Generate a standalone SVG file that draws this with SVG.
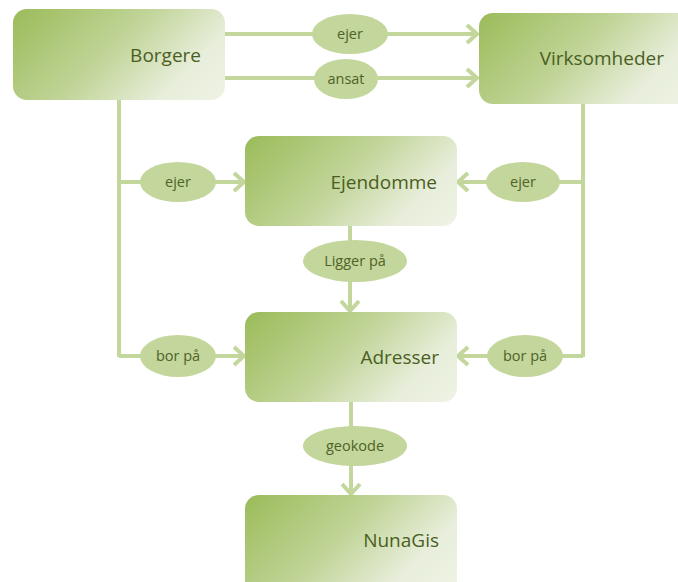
<svg xmlns="http://www.w3.org/2000/svg" width="678" height="582" viewBox="0 0 678 582">
<style>
.t{font-family:"Open Sans","Liberation Sans",sans-serif;font-size:19px;fill:#4a5e22;text-anchor:end;}
.c{stroke:#c3d69b;stroke-width:4;fill:none;}
.e{fill:#c3d69b;}
.l{font-family:"Open Sans","Liberation Sans",sans-serif;font-size:14.5px;fill:#4f6228;text-anchor:middle;}
.s0{stop-color:#9bbb59;}
.s1{stop-color:#c0d497;}
.s2{stop-color:#e8eedb;}
.s3{stop-color:#eef3e4;}
</style>
<defs>
<linearGradient id="gb" gradientUnits="userSpaceOnUse" x1="13" y1="9" x2="165" y2="161">
<stop offset="0" class="s0"/><stop offset="0.45" class="s1"/><stop offset="0.78" class="s2"/><stop offset="1" class="s3"/>
</linearGradient>
<linearGradient id="gv" href="#gb" x1="479" y1="13" x2="631" y2="165"/>
<linearGradient id="ge" href="#gb" x1="245" y1="136" x2="397" y2="288"/>
<linearGradient id="ga" href="#gb" x1="245" y1="312" x2="397" y2="464"/>
<linearGradient id="gn" href="#gb" x1="245" y1="495" x2="397" y2="647"/>
<marker id="a" markerUnits="userSpaceOnUse" markerWidth="16" markerHeight="22" refX="13" refY="11" orient="auto">
<path d="M3,2 L13,11 L3,20" fill="none" stroke="#c3d69b" stroke-width="4"/>
</marker>
</defs>
<rect width="678" height="582" fill="#ffffff"/>
<g id="connectors">
<line class="c" x1="225" y1="34" x2="477" y2="34" marker-end="url(#a)"/>
<line class="c" x1="225" y1="78" x2="477" y2="78" marker-end="url(#a)"/>
<polyline class="c" points="119,100 119,357"/>
<line class="c" x1="119" y1="182" x2="244" y2="182" marker-end="url(#a)"/>
<line class="c" x1="119" y1="356" x2="244" y2="356" marker-end="url(#a)"/>
<polyline class="c" points="583,104 583,357"/>
<line class="c" x1="583" y1="182" x2="458" y2="182" marker-end="url(#a)"/>
<line class="c" x1="583" y1="356" x2="458" y2="356" marker-end="url(#a)"/>
<line class="c" x1="350" y1="226" x2="350" y2="311" marker-end="url(#a)"/>
<line class="c" x1="351" y1="402" x2="351" y2="494" marker-end="url(#a)"/>
<ellipse class="e" cx="350" cy="34" rx="38" ry="20"/>
<text class="l" x="350" y="39">ejer</text>
<ellipse class="e" cx="346" cy="79" rx="32" ry="20"/>
<text class="l" x="346" y="84">ansat</text>
<ellipse class="e" cx="178" cy="182" rx="38" ry="20"/>
<text class="l" x="178" y="187">ejer</text>
<ellipse class="e" cx="178" cy="356" rx="38" ry="21"/>
<text class="l" x="178" y="361">bor på</text>
<ellipse class="e" cx="523" cy="182" rx="37" ry="20"/>
<text class="l" x="523" y="187">ejer</text>
<ellipse class="e" cx="525" cy="356" rx="38" ry="21"/>
<text class="l" x="525" y="361">bor på</text>
<ellipse class="e" cx="355" cy="261" rx="52" ry="21"/>
<text class="l" x="355" y="266">Ligger på</text>
<ellipse class="e" cx="355" cy="446" rx="52" ry="20"/>
<text class="l" x="355" y="451">geokode</text>
</g>
<g id="borgere">
<rect fill="url(#gb)" x="13" y="9" width="212" height="91" rx="14"/>
<text class="t" x="201" y="62">Borgere</text>
</g>
<g id="virksomheder">
<rect fill="url(#gv)" x="479" y="13" width="215" height="91" rx="14"/>
<text class="t" x="664" y="65">Virksomheder</text>
</g>
<g id="ejendomme">
<rect fill="url(#ge)" x="245" y="136" width="212" height="90" rx="14"/>
<text class="t" x="437" y="189">Ejendomme</text>
</g>
<g id="adresser">
<rect fill="url(#ga)" x="245" y="312" width="212" height="90" rx="14"/>
<text class="t" x="439" y="364">Adresser</text>
</g>
<g id="nunagis">
<rect fill="url(#gn)" x="245" y="495" width="212" height="100" rx="14"/>
<text class="t" x="439" y="547">NunaGis</text>
</g>
</svg>
